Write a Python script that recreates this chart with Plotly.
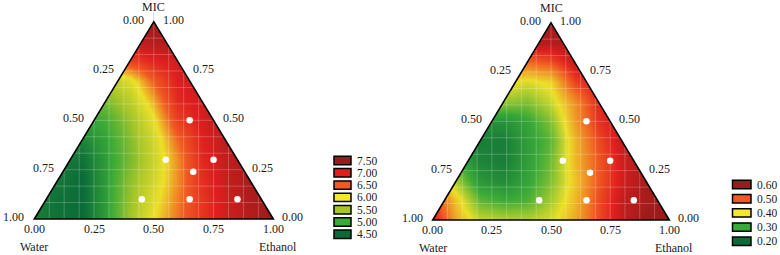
import plotly.graph_objects as go

# ---------------- data ----------------
# cartesian sampling grid of each ternary field: u = Ethanol + MIC/2 (across), v = MIC (up)
u_grid = [0.0, 0.1, 0.2, 0.3, 0.4, 0.5, 0.6, 0.7, 0.8, 0.9, 1.0]
v_grid = [0.0, 0.1, 0.2, 0.3, 0.4, 0.5, 0.6, 0.7, 0.8, 0.9, 1.0]

# left panel response, rows = v, cols = u
z_left = [
    [4.65, 4.55, 4.50, 4.90, 5.50, 6.00, 6.40, 6.80, 7.10, 7.30, 7.50],
    [4.65, 4.55, 4.50, 4.90, 5.45, 5.90, 6.35, 6.80, 7.10, 7.35, 7.50],
    [4.65, 4.60, 4.50, 4.90, 5.40, 5.80, 6.30, 6.85, 7.15, 7.40, 7.50],
    [4.70, 4.65, 4.55, 4.90, 5.30, 5.75, 6.30, 6.90, 7.20, 7.40, 7.50],
    [4.80, 4.75, 4.70, 4.95, 5.35, 5.80, 6.45, 6.95, 7.25, 7.40, 7.50],
    [4.95, 4.90, 4.90, 5.05, 5.45, 5.95, 6.70, 7.05, 7.30, 7.40, 7.50],
    [5.20, 5.20, 5.20, 5.30, 5.65, 6.20, 6.90, 7.10, 7.30, 7.40, 7.50],
    [5.50, 5.50, 5.50, 5.60, 5.90, 6.50, 7.00, 7.20, 7.30, 7.40, 7.50],
    [6.20, 6.20, 6.30, 6.50, 6.70, 6.95, 7.10, 7.30, 7.40, 7.50, 7.50],
    [6.90, 6.90, 6.90, 7.00, 7.15, 7.30, 7.35, 7.40, 7.50, 7.50, 7.50],
    [7.50, 7.50, 7.50, 7.50, 7.50, 7.50, 7.50, 7.50, 7.50, 7.50, 7.50],
]

# right panel response
z_right = [
    [0.56, 0.44, 0.38, 0.37, 0.37, 0.39, 0.44, 0.51, 0.57, 0.60, 0.60],
    [0.52, 0.42, 0.32, 0.30, 0.31, 0.36, 0.43, 0.51, 0.57, 0.59, 0.60],
    [0.45, 0.36, 0.27, 0.25, 0.29, 0.34, 0.42, 0.50, 0.56, 0.59, 0.60],
    [0.40, 0.31, 0.24, 0.23, 0.28, 0.33, 0.43, 0.50, 0.56, 0.59, 0.60],
    [0.37, 0.30, 0.23, 0.23, 0.28, 0.32, 0.43, 0.51, 0.57, 0.59, 0.60],
    [0.37, 0.30, 0.26, 0.26, 0.29, 0.34, 0.45, 0.53, 0.57, 0.59, 0.60],
    [0.40, 0.36, 0.34, 0.35, 0.34, 0.38, 0.46, 0.54, 0.58, 0.60, 0.60],
    [0.45, 0.42, 0.41, 0.41, 0.39, 0.41, 0.52, 0.56, 0.58, 0.60, 0.60],
    [0.52, 0.50, 0.50, 0.50, 0.49, 0.51, 0.57, 0.58, 0.59, 0.60, 0.60],
    [0.58, 0.58, 0.58, 0.58, 0.58, 0.58, 0.59, 0.59, 0.60, 0.60, 0.60],
    [0.60, 0.60, 0.60, 0.60, 0.60, 0.60, 0.60, 0.60, 0.60, 0.60, 0.60],
]

# experimental design points (mixture fractions)
water = [0.10, 0.30, 0.10, 0.215, 0.50, 0.30, 0.10]
ethanol = [0.40, 0.40, 0.60, 0.545, 0.40, 0.60, 0.80]
mic = [0.50, 0.30, 0.30, 0.24, 0.10, 0.10, 0.10]

tick_vals = [0.0, 0.25, 0.5, 0.75, 1.0]
tick_text = ["0.00", "0.25", "0.50", "0.75", "1.00"]

legend_left_labels = ["7.50", "7.00", "6.50", "6.00", "5.50", "5.00", "4.50"]
legend_left_colors = ["#9b1b1b", "#e01e1e", "#f05a22", "#f5e82a", "#a6c62a", "#3aaa38", "#0b6b38"]
legend_right_labels = ["0.60", "0.50", "0.40", "0.30", "0.20"]
legend_right_colors = ["#9b1b1b", "#f05a22", "#f5e82a", "#3aaa38", "#0b6b38"]

# ---------------- style ----------------
W, H = 780, 255
FONT = "'Liberation Serif', 'Times New Roman', Times, serif"
TXT = "#1a1a1a"
PAD = 0.1  # axis padding beyond the triangle (data units)

cs_left = [
    [0.0, "#0b6b38"], [1 / 6, "#3aaa38"], [2 / 6, "#a6c62a"], [3 / 6, "#ece02a"],
    [4 / 6, "#f05a22"], [5 / 6, "#de1f1f"], [1.0, "#9b1b1b"],
]
cs_right = [
    [0.0, "#0b6b38"], [0.25, "#3aaa38"], [0.5, "#ece02a"], [0.75, "#f05a22"],
    [0.875, "#de1f1f"], [1.0, "#9b1b1b"],
]

fig = go.Figure()

panels = [
    dict(z=z_left, cs=cs_left, zmin=4.5, zmax=7.5, xa="x", ya="y"),
    dict(z=z_right, cs=cs_right, zmin=0.2, zmax=0.6, xa="x2", ya="y2"),
]

pu = [e + m / 2 for e, m in zip(ethanol, mic)]
pv = list(mic)

shapes = []
annotations = []
M = 0.2  # mask overshoot
for p in panels:
    fig.add_trace(go.Heatmap(
        x=u_grid, y=v_grid, z=p["z"], colorscale=p["cs"], zmin=p["zmin"], zmax=p["zmax"],
        zsmooth="best", showscale=False, hoverinfo="skip", xaxis=p["xa"], yaxis=p["ya"],
    ))
    fig.add_trace(go.Scatter(
        x=pu, y=pv, mode="markers", xaxis=p["xa"], yaxis=p["ya"],
        marker=dict(color="white", size=6.5, line=dict(width=0)), showlegend=False, hoverinfo="skip",
    ))
    xr, yr = p["xa"], p["ya"]
    # faint grid
    for k in range(1, 16):
        shapes.append(dict(type="line", xref=xr, yref=yr, layer="above", x0=k / 16, x1=k / 16, y0=0, y1=1,
                           line=dict(color="rgba(255,255,255,0.22)", width=1)))
    for k in range(1, 12):
        shapes.append(dict(type="line", xref=xr, yref=yr, layer="above", x0=0, x1=1, y0=k / 12, y1=k / 12,
                           line=dict(color="rgba(255,255,255,0.22)", width=1)))
    # white masks outside the triangle
    shapes.append(dict(type="path", xref=xr, yref=yr, layer="above", line=dict(width=0), fillcolor="white",
                       path=f"M {-M},{-M} L 0,0 L 0.5,1 L 0.5,{1 + M} L {-M},{1 + M} Z"))
    shapes.append(dict(type="path", xref=xr, yref=yr, layer="above", line=dict(width=0), fillcolor="white",
                       path=f"M {1 + M},{-M} L 1,0 L 0.5,1 L 0.5,{1 + M} L {1 + M},{1 + M} Z"))
    shapes.append(dict(type="path", xref=xr, yref=yr, layer="above", line=dict(width=0), fillcolor="white",
                       path=f"M {-M},{-M} L {1 + M},{-M} L {1 + M},0 L {-M},0 Z"))
    # outline
    shapes.append(dict(type="path", xref=xr, yref=yr, layer="above", fillcolor="rgba(0,0,0,0)",
                       line=dict(color="black", width=1.6), path="M 0,0 L 1,0 L 0.5,1 Z"))

    font = dict(family=FONT, size=12, color=TXT)
    for tv, tt in zip(tick_vals, tick_text):
        annotations.append(dict(x=tv, y=0, xref=xr, yref=yr, text=tt, showarrow=False, font=font,
                                xanchor="center", yanchor="middle", yshift=-10))
        annotations.append(dict(x=(1 - tv) / 2, y=1 - tv, xref=xr, yref=yr, text=tt, showarrow=False,
                                font=font, xanchor="right", yanchor="middle", xshift=-8, yshift=2))
        annotations.append(dict(x=1 - tv / 2, y=tv, xref=xr, yref=yr, text=tt, showarrow=False,
                                font=font, xanchor="left", yanchor="middle", xshift=7, yshift=2))
    annotations.append(dict(x=0.5, y=1, xref=xr, yref=yr, text="MIC", showarrow=False, font=font,
                            xanchor="center", yanchor="middle", yshift=15))
    annotations.append(dict(x=0, y=0, xref=xr, yref=yr, text="Water", showarrow=False, font=font,
                            xanchor="center", yanchor="middle", yshift=-28))
    annotations.append(dict(x=1, y=0, xref=xr, yref=yr, text="Ethanol", showarrow=False, font=font,
                            xanchor="center", yanchor="middle", xshift=5, yshift=-28))


def add_key(labels, colors, x0px, x1px, y0px, step, tx):
    for i, (lab, col) in enumerate(zip(labels, colors)):
        yc = y0px + i * step
        shapes.append(dict(type="rect", xref="paper", yref="paper",
                           x0=x0px / W, x1=x1px / W, y0=1 - (yc + 4.2) / H, y1=1 - (yc - 4.2) / H,
                           fillcolor=col, line=dict(color="black", width=1.5)))
        annotations.append(dict(x=tx / W, y=1 - yc / H, xref="paper", yref="paper", text=lab,
                                showarrow=False, xanchor="left", yanchor="middle",
                                font=dict(family=FONT, size=11.5, color=TXT)))


add_key(legend_left_labels, legend_left_colors, 334, 351, 160.5, 12.3, 355)
add_key(legend_right_labels, legend_right_colors, 732.5, 751, 184.5, 14.2, 755)


def dom_x(a, b):
    s = b - a
    return [(a - PAD * s) / W, (b + PAD * s) / W]


def dom_y(base, top):
    s = base - top
    return [1 - (base + PAD * s) / H, 1 - (top - PAD * s) / H]


axis_common = dict(range=[-PAD, 1 + PAD], visible=False, showgrid=False, zeroline=False, fixedrange=True)
fig.update_layout(
    width=W, height=H, margin=dict(l=0, r=0, t=0, b=0),
    paper_bgcolor="white", plot_bgcolor="white", showlegend=False,
    font=dict(family=FONT),
    xaxis=dict(domain=dom_x(34.3, 273.3), anchor="y", **axis_common),
    yaxis=dict(domain=dom_y(219, 21.7), anchor="x", **axis_common),
    xaxis2=dict(domain=dom_x(432.7, 669.3), anchor="y2", **axis_common),
    yaxis2=dict(domain=dom_y(220, 22.7), anchor="x2", **axis_common),
    shapes=shapes, annotations=annotations,
)

fig.write_html("out.html", config={"displayModeBar": False, "staticPlot": True},
               post_script="document.body.style.margin='0px';document.body.style.overflow='hidden';")
